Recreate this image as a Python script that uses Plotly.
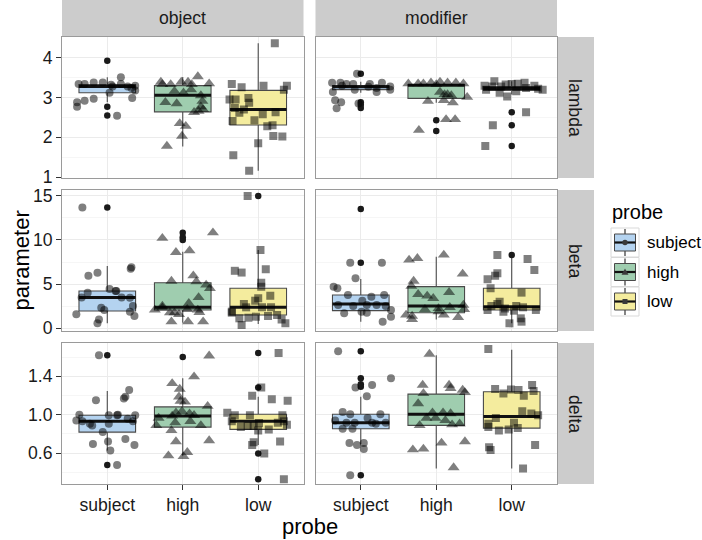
import plotly.graph_objects as go

# ---------------- data ----------------
probes = ["subject", "high", "low"]
conditions = ["object", "modifier"]
parameters = ["lambda", "beta", "delta"]

# box statistics per panel, ordered [subject, high, low]
lambda_object_q1 = [3.12, 2.64, 2.31]
lambda_object_median = [3.28, 3.06, 2.70]
lambda_object_q3 = [3.33, 3.30, 3.18]
lambda_object_lower = [2.88, 1.77, 1.16]
lambda_object_upper = [3.51, 3.52, 4.37]
lambda_modifier_q1 = [3.20, 2.98, 3.18]
lambda_modifier_median = [3.27, 3.31, 3.23]
lambda_modifier_q3 = [3.30, 3.33, 3.28]
lambda_modifier_lower = [3.12, 2.87, 3.08]
lambda_modifier_upper = [3.40, 3.39, 3.41]

beta_object_q1 = [1.93, 2.05, 1.48]
beta_object_median = [3.48, 2.35, 2.35]
beta_object_q3 = [4.20, 5.15, 4.51]
beta_object_lower = [0.53, 0.61, 0.45]
beta_object_upper = [7.05, 8.67, 8.86]
beta_modifier_q1 = [1.97, 1.74, 2.05]
beta_modifier_median = [2.73, 2.50, 2.42]
beta_modifier_q3 = [3.75, 4.70, 4.51]
beta_modifier_lower = [0.72, 0.98, 0.53]
beta_modifier_upper = [5.57, 8.11, 8.00]

delta_object_q1 = [0.818, 0.870, 0.846]
delta_object_median = [0.930, 0.986, 0.930]
delta_object_q3 = [0.993, 1.081, 1.004]
delta_object_lower = [0.625, 0.572, 0.684]
delta_object_upper = [1.246, 1.379, 1.186]
delta_modifier_q1 = [0.853, 0.888, 0.860]
delta_modifier_median = [0.916, 1.004, 0.982]
delta_modifier_q3 = [1.004, 1.214, 1.239]
delta_modifier_lower = [0.695, 0.439, 0.439]
delta_modifier_upper = [1.186, 1.618, 1.677]

# boxplot outliers
lambda_object_subject_out = [3.93, 2.77, 2.55]
lambda_object_high_out = []
lambda_object_low_out = []
lambda_modifier_subject_out = [3.60, 2.88, 2.82, 2.74]
lambda_modifier_high_out = [2.43, 2.16]
lambda_modifier_low_out = [2.63, 2.30, 1.78]
beta_object_subject_out = [13.7]
beta_object_high_out = [10.83, 10.3, 10.0]
beta_object_low_out = [15.0]
beta_modifier_subject_out = [13.52, 7.42]
beta_modifier_high_out = []
beta_modifier_low_out = [8.3]
delta_object_subject_out = [1.618, 0.474]
delta_object_high_out = [1.60]
delta_object_low_out = [1.642, 1.284, 0.596, 0.326]
delta_modifier_subject_out = [1.66, 1.379, 1.316, 1.29, 0.368]
delta_modifier_high_out = []
delta_modifier_low_out = []

# jittered observations: values and horizontal jitter offsets
lambda_object_subject_y = [2.88, 2.77, 2.92, 2.97, 2.99, 2.54, 3.34, 3.34, 3.38, 3.38, 3.32, 3.28, 3.51, 3.34, 3.28, 3.30, 3.18, 3.24, 3.12]
lambda_object_subject_dx = [-0.40, -0.40, -0.30, -0.18, 0.33, 0.13, -0.38, -0.30, -0.18, -0.06, 0.05, 0.07, 0.18, 0.18, 0.27, 0.37, 0.37, 0.32, 0.03]
lambda_object_high_y = [3.39, 3.33, 3.33, 3.16, 2.88, 2.85, 3.39, 3.39, 3.33, 3.20, 3.53, 3.35, 3.05, 2.91, 2.77, 2.63, 2.66, 2.70, 2.35, 2.28, 2.03, 1.78, 3.12]
lambda_object_high_dx = [-0.29, -0.27, -0.16, -0.11, -0.23, -0.08, -0.02, 0.07, 0.12, 0.11, 0.20, 0.35, 0.24, 0.26, 0.24, 0.15, 0.21, 0.27, -0.04, 0.04, -0.01, -0.21, 0.01]
lambda_object_low_y = [4.37, 3.34, 3.26, 3.30, 3.30, 3.20, 2.95, 2.95, 2.99, 2.87, 2.74, 2.70, 2.62, 2.41, 2.43, 2.58, 2.63, 2.28, 2.30, 2.03, 2.02, 1.85, 1.55, 1.16]
lambda_object_low_dx = [0.22, -0.35, -0.22, 0.07, 0.38, 0.34, -0.38, -0.30, -0.13, -0.12, -0.31, -0.19, -0.25, -0.34, -0.05, 0.06, 0.23, 0.12, 0.19, 0.20, 0.32, 0.00, -0.33, -0.12]
lambda_modifier_subject_y = [3.60, 3.37, 3.37, 3.34, 3.34, 3.34, 3.37, 3.28, 3.27, 3.24, 3.20, 3.14, 3.14, 3.20, 2.93, 2.88, 2.73, 2.85, 3.30]
lambda_modifier_subject_dx = [-0.05, -0.38, -0.27, -0.19, -0.10, 0.12, 0.28, 0.39, 0.10, 0.21, -0.08, -0.37, 0.21, 0.39, -0.34, -0.26, -0.32, -0.03, -0.25]
lambda_modifier_high_y = [3.35, 3.35, 3.35, 3.37, 3.39, 3.37, 3.37, 3.35, 3.14, 3.08, 3.08, 3.05, 3.01, 2.91, 2.93, 2.87, 2.45, 2.45, 2.18, 3.33]
lambda_modifier_high_dx = [-0.37, -0.24, -0.17, -0.07, 0.05, 0.15, 0.26, 0.36, 0.05, 0.11, 0.15, 0.20, 0.41, -0.11, 0.10, 0.22, 0.13, 0.25, -0.23, 0.00]
lambda_modifier_low_y = [3.30, 3.20, 3.41, 3.28, 3.12, 3.33, 3.03, 3.34, 3.35, 3.37, 3.24, 3.30, 3.22, 3.20, 3.28, 2.63, 2.30, 1.78, 3.16]
lambda_modifier_low_dx = [-0.36, -0.34, -0.23, -0.26, -0.16, -0.08, -0.06, 0.00, 0.08, 0.17, 0.19, 0.30, 0.35, 0.41, -0.14, 0.19, -0.25, -0.35, 0.06]

beta_object_subject_y = [13.7, 6.29, 5.95, 6.89, 6.74, 4.43, 4.20, 4.02, 3.48, 3.48, 3.45, 2.50, 2.31, 2.05, 1.86, 1.36, 1.55, 0.98, 0.53, 4.20]
beta_object_subject_dx = [-0.33, -0.13, -0.25, 0.32, 0.31, 0.03, 0.11, -0.26, -0.34, 0.19, 0.30, 0.34, -0.08, -0.04, 0.30, 0.36, -0.41, -0.11, -0.13, 0.12]
beta_object_high_y = [10.2, 10.83, 8.6, 8.79, 5.95, 5.34, 5.27, 4.89, 4.51, 3.48, 2.5, 2.05, 1.74, 1.74, 1.55, 2.8, 2.12, 2.05, 1.78, 0.72, 0.72, 0.72, 2.3]
beta_object_high_dx = [-0.27, 0.40, -0.09, 0.09, 0.14, -0.15, 0.18, 0.31, 0.36, 0.21, -0.27, -0.37, -0.11, -0.17, -0.05, 0.08, 0.06, 0.20, 0.22, -0.15, 0.07, 0.27, -0.27]
beta_object_low_y = [15.0, 8.86, 6.5, 6.3, 6.67, 5.15, 4.7, 3.67, 3.37, 3.1, 2.73, 2.35, 2.35, 2.35, 1.74, 1.1, 1.17, 1.29, 1.36, 1.48, 0.34, 0.98, 0.53, 1.86]
beta_object_low_dx = [-0.14, 0.03, -0.31, -0.22, 0.10, 0.04, 0.04, 0.16, 0.00, -0.04, -0.19, -0.16, 0.05, 0.17, -0.35, -0.25, -0.13, -0.03, 0.13, 0.25, -0.22, 0.31, 0.36, -0.35]
beta_modifier_subject_y = [7.42, 7.42, 5.64, 4.70, 4.51, 3.75, 3.56, 3.75, 3.11, 2.61, 2.5, 2.61, 2.61, 2.5, 2.05, 1.67, 1.74, 1.29, 0.72, 1.86]
beta_modifier_subject_dx = [-0.14, 0.28, -0.07, -0.36, -0.31, -0.17, 0.14, 0.31, 0.02, -0.30, -0.10, 0.08, 0.21, 0.33, 0.40, -0.22, 0.08, 0.40, 0.29, 0.01]
beta_modifier_high_y = [7.73, 7.92, 8.30, 6.14, 5.34, 4.77, 4.05, 3.83, 3.64, 3.37, 2.12, 2.23, 2.35, 2.61, 2.12, 1.48, 1.36, 0.98, 1.48, 1.21, 1.86]
beta_modifier_high_dx = [-0.36, -0.25, 0.10, 0.35, -0.30, -0.33, 0.17, -0.24, -0.12, -0.04, -0.15, 0.03, 0.18, 0.36, 0.37, -0.40, -0.32, -0.32, 0.10, 0.29, 0.03]
beta_modifier_low_y = [8.3, 7.84, 6.59, 5.53, 5.95, 6.21, 4.51, 4.02, 2.99, 2.73, 2.5, 2.05, 2.23, 1.97, 2.35, 2.5, 2.05, 1.86, 1.1, 0.53, 0.72]
beta_modifier_low_dx = [-0.19, 0.21, 0.30, -0.32, -0.22, -0.19, -0.28, 0.13, -0.16, -0.19, -0.27, -0.32, -0.09, 0.03, 0.15, 0.06, 0.32, -0.11, 0.12, -0.03, 0.13]

delta_object_subject_y = [1.618, 1.256, 1.186, 1.168, 1.151, 1.0, 0.993, 1.0, 0.993, 0.94, 0.93, 0.905, 0.888, 0.905, 0.958, 0.93, 0.818, 0.695, 0.72, 0.625, 0.747, 0.684, 0.474, 0.993]
delta_object_subject_dx = [-0.11, 0.29, 0.24, 0.22, -0.15, -0.37, 0.02, 0.14, 0.37, -0.41, -0.33, -0.23, -0.20, 0.02, 0.27, 0.34, -0.06, -0.19, 0.01, 0.04, 0.24, 0.36, 0.13, 0.13]
delta_object_high_y = [1.614, 1.396, 1.326, 1.267, 1.186, 1.14, 1.133, 1.088, 0.965, 0.986, 1.02, 1.035, 1.01, 0.993, 0.916, 0.888, 0.93, 0.888, 0.835, 0.72, 0.73, 0.607, 0.572, 0.565]
delta_object_high_dx = [0.35, 0.15, -0.14, -0.04, -0.05, -0.03, 0.03, 0.33, -0.32, -0.14, -0.09, -0.01, 0.09, 0.15, -0.10, -0.35, 0.10, 0.24, -0.15, -0.09, 0.35, 0.06, -0.19, 0.01]
delta_object_low_y = [1.642, 1.284, 1.196, 1.161, 1.144, 1.021, 0.993, 0.993, 0.993, 0.93, 0.87, 0.881, 0.912, 0.846, 0.881, 0.916, 0.895, 0.93, 0.712, 0.684, 0.72, 0.596, 0.326, 0.835]
delta_object_low_dx = [0.27, 0.04, -0.08, 0.18, 0.39, -0.41, -0.31, -0.11, 0.32, -0.35, -0.23, -0.14, 0.01, 0.14, -0.06, 0.26, 0.38, 0.34, -0.06, -0.08, 0.29, 0.08, 0.34, 0.00]
delta_modifier_subject_y = [1.66, 1.379, 1.284, 1.309, 1.193, 1.028, 1.004, 1.004, 0.965, 0.94, 0.916, 0.916, 0.905, 0.916, 0.853, 0.853, 0.705, 0.684, 0.705, 0.642, 0.368, 0.916]
delta_modifier_subject_dx = [-0.30, 0.40, -0.07, 0.15, 0.08, -0.24, -0.14, 0.26, 0.09, -0.34, -0.19, -0.08, 0.20, 0.33, -0.24, -0.11, -0.15, -0.05, 0.04, 0.04, -0.14, 0.15]
delta_modifier_high_y = [1.632, 1.309, 1.309, 1.274, 1.256, 1.221, 1.116, 1.021, 1.021, 1.011, 0.965, 0.965, 0.94, 0.888, 0.895, 0.905, 0.635, 0.642, 0.705, 0.719, 0.449, 1.232]
delta_modifier_high_dx = [-0.09, -0.18, 0.17, 0.19, 0.35, -0.17, -0.24, -0.05, 0.09, 0.19, -0.13, -0.01, 0.12, -0.22, 0.21, 0.31, -0.31, -0.17, 0.07, 0.38, 0.23, 0.38]
delta_modifier_low_y = [1.684, 1.267, 1.221, 1.263, 1.256, 1.196, 1.309, 1.246, 0.905, 0.965, 0.87, 0.835, 0.846, 0.86, 1.035, 0.916, 1.011, 0.993, 0.66, 0.632, 0.684, 0.439]
delta_modifier_low_dx = [-0.31, -0.22, -0.11, -0.01, 0.09, 0.16, 0.27, 0.29, -0.31, -0.21, -0.31, -0.17, -0.04, 0.08, 0.14, 0.03, 0.26, 0.35, -0.30, -0.28, 0.31, 0.15]

# axis scales
lambda_range = [0.975, 4.525]
beta_range = [-0.34, 15.68]
delta_range = [0.277, 1.747]
lambda_ticks = [1, 2, 3, 4]
lambda_ticklabels = ["1", "2", "3", "4"]
lambda_minor = [1.5, 2.5, 3.5, 4.5]
beta_ticks = [0, 5, 10, 15]
beta_ticklabels = ["0", "5", "10", "15"]
beta_minor = [2.5, 7.5, 12.5]
delta_ticks = [0.6, 1.0, 1.4]
delta_ticklabels = ["0.6", "1.0", "1.4"]
delta_minor = [0.4, 0.8, 1.2, 1.6]

# ---------------- styling / layout ----------------
W, H = 702, 540
FONT = "Liberation Sans, Arial, Helvetica, sans-serif"
TXT = "#1a1a1a"


def fx(p):
    return p / W


def fy(p):
    return 1 - p / H


COL_X = [(62, 303.5), (315.5, 557)]
ROW_Y = [(37, 178), (190, 331), (343, 484)]
FILLS = {"subject": "#B4D3F0", "high": "#9FCDAF", "low": "#F4EC9E"}
SYMBOLS = {"subject": "circle", "high": "triangle-up", "low": "square"}
SIZES = {"subject": 8, "high": 10.5, "low": 8}
G = globals()

fig = go.Figure()
layout_axes = {}

for r, param in enumerate(parameters):
    for c, cond in enumerate(conditions):
        k = r * 2 + c + 1
        xa = "x" if k == 1 else f"x{k}"
        ya = "y" if k == 1 else f"y{k}"
        q1 = G[f"{param}_{cond}_q1"]
        med = G[f"{param}_{cond}_median"]
        q3 = G[f"{param}_{cond}_q3"]
        lo = G[f"{param}_{cond}_lower"]
        hi = G[f"{param}_{cond}_upper"]
        for i, pr in enumerate(probes):
            xpos = i + 1
            fig.add_trace(go.Box(
                x=[xpos], q1=[q1[i]], median=[med[i]], q3=[q3[i]],
                lowerfence=[lo[i]], upperfence=[hi[i]], width=0.75,
                fillcolor=FILLS[pr], line=dict(color="#4a4a4a", width=1.1),
                whiskerwidth=0, boxpoints=False, showlegend=False,
                hoverinfo="skip", xaxis=xa, yaxis=ya))
        for i, pr in enumerate(probes):
            xpos = i + 1
            fig.add_trace(go.Scatter(
                x=[xpos - 0.375, xpos + 0.375], y=[med[i], med[i]], mode="lines",
                line=dict(color="#111111", width=3), showlegend=False,
                hoverinfo="skip", xaxis=xa, yaxis=ya))
            out = G[f"{param}_{cond}_{pr}_out"]
            if out:
                fig.add_trace(go.Scatter(
                    x=[xpos] * len(out), y=out, mode="markers",
                    marker=dict(color="#1a1a1a", size=6.5, line=dict(width=0)),
                    showlegend=False, hoverinfo="skip", xaxis=xa, yaxis=ya))
        for i, pr in enumerate(probes):
            xpos = i + 1
            ys = G[f"{param}_{cond}_{pr}_y"]
            dxs = G[f"{param}_{cond}_{pr}_dx"]
            fig.add_trace(go.Scatter(
                x=[xpos + d for d in dxs], y=ys, mode="markers",
                marker=dict(symbol=SYMBOLS[pr], size=SIZES[pr],
                            color="rgba(0,0,0,0.5)", line=dict(width=0)),
                showlegend=False, hoverinfo="skip", xaxis=xa, yaxis=ya))

        x0, x1 = COL_X[c]
        y0, y1 = ROW_Y[r]
        bottom = r == len(parameters) - 1
        left = c == 0
        layout_axes["xaxis" if k == 1 else f"xaxis{k}"] = dict(
            domain=[fx(x0), fx(x1)], range=[0.4, 3.6], anchor=ya,
            tickvals=[1, 2, 3], ticktext=probes, showticklabels=bottom,
            ticks="outside" if bottom else "", ticklen=5, tickwidth=1, tickcolor="#333333",
            tickfont=dict(size=17.6, color=TXT, family=FONT),
            showgrid=True, gridcolor="#EBEBEB", gridwidth=1, zeroline=False,
            showline=True, linecolor="#9a9a9a", linewidth=1, mirror=True,
            fixedrange=True)
        layout_axes["yaxis" if k == 1 else f"yaxis{k}"] = dict(
            domain=[fy(y1), fy(y0)], range=G[f"{param}_range"], anchor=xa,
            tickvals=G[f"{param}_ticks"], ticktext=G[f"{param}_ticklabels"],
            showticklabels=left, ticks="outside" if left else "", ticklen=5,
            tickwidth=1, tickcolor="#333333",
            tickfont=dict(size=17.6, color=TXT, family=FONT),
            showgrid=True, gridcolor="#EBEBEB", gridwidth=1, zeroline=False,
            minor=dict(tickvals=G[f"{param}_minor"], showgrid=True,
                       gridcolor="#F6F6F6", gridwidth=1, ticks=""),
            showline=True, linecolor="#9a9a9a", linewidth=1, mirror=True,
            fixedrange=True)

shapes = []
annotations = []
STRIP = "#CCCCCC"
# top strips
for c, cond in enumerate(conditions):
    x0, x1 = COL_X[c]
    shapes.append(dict(type="rect", xref="paper", yref="paper", x0=fx(x0), x1=fx(x1),
                       y0=fy(ROW_Y[0][0]), y1=fy(0), fillcolor=STRIP, line=dict(width=0),
                       layer="below"))
    annotations.append(dict(xref="paper", yref="paper", x=fx((x0 + x1) / 2), y=fy(18.5),
                            text=cond, showarrow=False, xanchor="center", yanchor="middle",
                            font=dict(size=17.6, color=TXT, family=FONT)))
# right strips
for r, param in enumerate(parameters):
    y0, y1 = ROW_Y[r]
    shapes.append(dict(type="rect", xref="paper", yref="paper", x0=fx(557), x1=fx(594),
                       y0=fy(y1), y1=fy(y0), fillcolor=STRIP, line=dict(width=0),
                       layer="below"))
    annotations.append(dict(xref="paper", yref="paper", x=fx(575.5), y=fy((y0 + y1) / 2),
                            text=param, showarrow=False, textangle=90, xanchor="center",
                            yanchor="middle", font=dict(size=17.6, color=TXT, family=FONT)))

# axis titles
annotations.append(dict(xref="paper", yref="paper", x=fx(309.5), y=fy(526), text="probe",
                        showarrow=False, xanchor="center", yanchor="middle",
                        font=dict(size=22, color="black", family=FONT)))
annotations.append(dict(xref="paper", yref="paper", x=fx(21), y=fy(260.5), text="parameter",
                        showarrow=False, textangle=-90, xanchor="center", yanchor="middle",
                        font=dict(size=22, color="black", family=FONT)))

# legend (drawn by hand to mimic ggplot keys)
annotations.append(dict(xref="paper", yref="paper", x=fx(610), y=fy(212), text="probe",
                        showarrow=False, xanchor="left", yanchor="middle",
                        font=dict(size=20, color="black", family=FONT)))
for i, pr in enumerate(probes):
    top = 228 + 29.5 * i
    bot = top + 29
    cy = (top + bot) / 2
    shapes.append(dict(type="rect", xref="paper", yref="paper", x0=fx(611), x1=fx(639),
                       y0=fy(bot), y1=fy(top), fillcolor="white",
                       line=dict(color="#D9D9D9", width=1)))
    shapes.append(dict(type="line", xref="paper", yref="paper", x0=fx(625), x1=fx(625),
                       y0=fy(bot - 1), y1=fy(top + 1), line=dict(color="#333333", width=1.2)))
    shapes.append(dict(type="rect", xref="paper", yref="paper", x0=fx(614.5), x1=fx(635.5),
                       y0=fy(cy + 8.5), y1=fy(cy - 8.5), fillcolor=FILLS[pr],
                       line=dict(color="#4a4a4a", width=1)))
    shapes.append(dict(type="line", xref="paper", yref="paper", x0=fx(614.5), x1=fx(635.5),
                       y0=fy(cy), y1=fy(cy), line=dict(color="#111111", width=2.2)))
    if pr == "subject":
        shapes.append(dict(type="circle", xref="paper", yref="paper", x0=fx(622.3), x1=fx(627.7),
                           y0=fy(cy + 2.7), y1=fy(cy - 2.7), fillcolor="#3a3a3a",
                           line=dict(width=0)))
    elif pr == "high":
        shapes.append(dict(type="path", xref="paper", yref="paper",
                           path=f"M {fx(621.5)} {fy(cy + 2.8)} L {fx(628.5)} {fy(cy + 2.8)} "
                                f"L {fx(625)} {fy(cy - 3.6)} Z",
                           fillcolor="#3a3a3a", line=dict(width=0)))
    else:
        shapes.append(dict(type="rect", xref="paper", yref="paper", x0=fx(622.5), x1=fx(627.5),
                           y0=fy(cy + 2.5), y1=fy(cy - 2.5), fillcolor="#3a3a3a",
                           line=dict(width=0)))
    annotations.append(dict(xref="paper", yref="paper", x=fx(644.5), y=fy(cy), text=pr,
                            showarrow=False, xanchor="left", yanchor="middle",
                            font=dict(size=17, color="black", family=FONT)))

fig.update_layout(
    width=W, height=H, margin=dict(l=0, r=0, t=0, b=0, autoexpand=False),
    paper_bgcolor="white", plot_bgcolor="white", showlegend=False,
    font=dict(family=FONT, color=TXT), shapes=shapes, annotations=annotations,
    **layout_axes)

fig.write_html("out.html", config=dict(displayModeBar=False),
               post_script="document.body.style.margin='0';document.body.style.padding='0';")
